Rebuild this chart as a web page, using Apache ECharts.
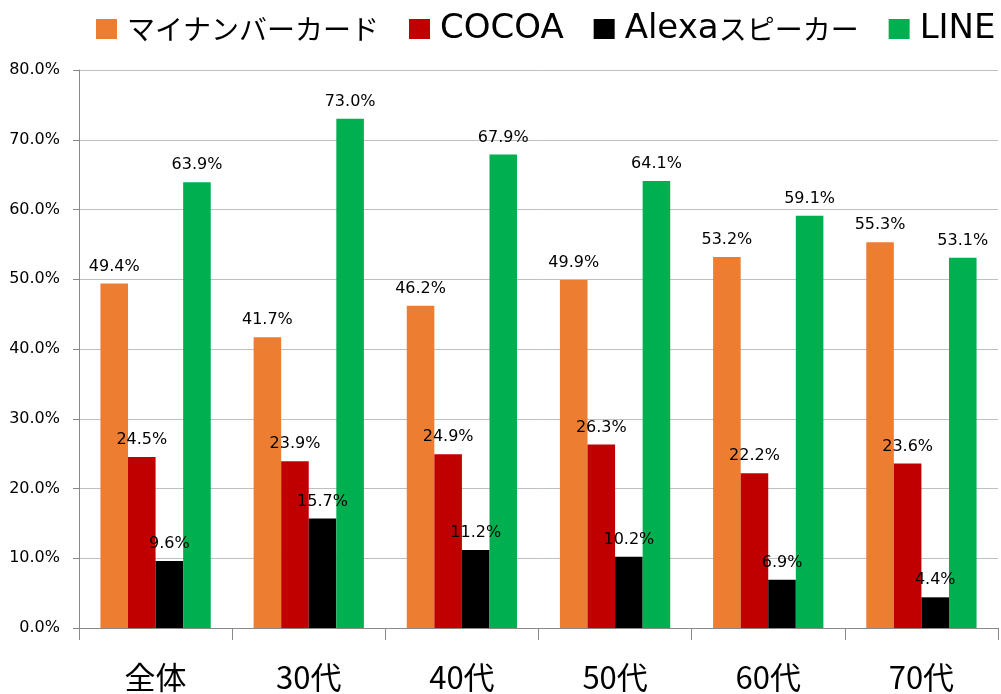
<!DOCTYPE html>
<html><head><meta charset="utf-8">
<script src="https://cdn.jsdelivr.net/npm/echarts@6/dist/echarts.min.js"></script>
<style>html,body{margin:0;padding:0;background:#fff}#c{width:1001px;height:694px}</style>
</head><body><div id="c"></div>
<script>
const categories = ['全体', '30代', '40代', '50代', '60代', '70代'];
const seriesNames = ['マイナンバーカード', 'COCOA', 'Alexaスピーカー', 'LINE'];
const mynumber = [49.4, 41.7, 46.2, 49.9, 53.2, 55.3];
const cocoa = [24.5, 23.9, 24.9, 26.3, 22.2, 23.6];
const alexa = [9.6, 15.7, 11.2, 10.2, 6.9, 4.4];
const line = [63.9, 73.0, 67.9, 64.1, 59.1, 53.1];
const colors = ['#ED7D31', '#C00000', '#000000', '#00B050'];
const yTicks = [0, 10, 20, 30, 40, 50, 60, 70, 80];

const dataSets = [mynumber, cocoa, alexa, line];

// split legend names into Latin / Japanese runs for rich-text styling
function richName(name) {
  return name.replace(/([A-Za-z]+)|([^A-Za-z]+)/g, (m, lat, jp) =>
    lat ? '{l|' + lat + '}' : '{j|' + jp + '}');
}

const chart = echarts.init(document.getElementById('c'));
chart.setOption({
  animation: false,
  color: colors,
  legend: {
    top: 7, left: 91, itemWidth: 21, itemHeight: 20, itemGap: 30,
    icon: 'rect',
    formatter: richName,
    textStyle: {
      color: '#000', padding: [0, 0, 0, 5],
      rich: {
        j: { fontSize: 28, fontFamily: 'Noto Sans CJK JP', color: '#000' },
        l: { fontSize: 34, fontFamily: 'DejaVu Sans', color: '#000' }
      }
    },
    data: seriesNames
  },
  grid: { left: 79, right: 3, top: 70, bottom: 66 },
  xAxis: {
    type: 'category', data: categories, boundaryGap: true,
    axisLine: { lineStyle: { color: '#898989', width: 1 } },
    axisTick: { show: true, length: 12, lineStyle: { color: '#898989' } },
    axisLabel: { fontSize: 31, color: '#000', margin: 34, fontFamily: 'Noto Sans CJK JP' }
  },
  yAxis: {
    type: 'value', min: 0, max: 80, interval: 10,
    axisLine: { show: true, lineStyle: { color: '#898989' } },
    axisTick: { show: true, length: 6, lineStyle: { color: '#898989' } },
    splitLine: { lineStyle: { color: '#bfbfbf' } },
    axisLabel: { fontSize: 16, color: '#000', margin: 19, fontFamily: 'DejaVu Sans',
      formatter: v => v.toFixed(1) + '%' }
  },
  series: dataSets.map((d, i) => ({
    name: seriesNames[i], type: 'bar', data: d,
    barGap: '0%', barCategoryGap: '28%',
    itemStyle: { color: colors[i] },
    label: { show: true, position: 'top', distance: 9, fontSize: 16, color: '#000',
      fontFamily: 'DejaVu Sans', formatter: p => p.value.toFixed(1) + '%' }
  }))
});
</script></body></html>
